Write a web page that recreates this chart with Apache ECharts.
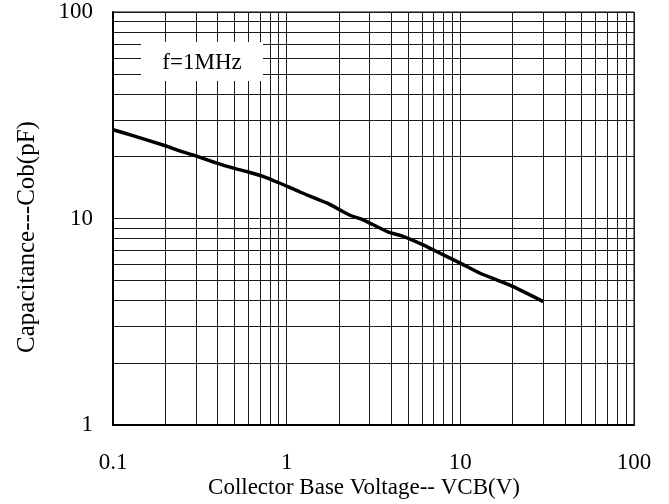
<!DOCTYPE html>
<html>
<head>
<meta charset="utf-8">
<script src="https://cdn.jsdelivr.net/npm/echarts@6/dist/echarts.min.js"></script>
<style>
  html, body { margin: 0; padding: 0; background: #fff; }
  #chart { width: 669px; height: 504px; }
</style>
</head>
<body>
<div id="chart"></div>
<script>
// Cob vs VCB
const voltage = [0.1, 0.13, 0.2, 0.24, 0.3, 0.4, 0.5, 0.6, 0.73, 0.9, 1.2, 1.7, 2.3, 2.75, 3.3, 3.9, 4.6, 6.1, 7.3, 10, 13, 20, 30];
const capacitance = [26.9, 25.2, 22.5, 21.3, 20.1, 18.5, 17.5, 16.8, 16.0, 14.9, 13.4, 11.9, 10.4, 9.86, 9.15, 8.56, 8.24, 7.46, 6.92, 6.08, 5.43, 4.69, 3.96];
const xTitle = "Collector Base Voltage-- VCB(V)";
const yTitle = "Capacitance---Cob(pF)";
const noteText = "f=1MHz";

const font = "Liberation Serif";
const gridColor = "#1a1a1a";

const chart = echarts.init(document.getElementById("chart"));

const logAxis = (min, max, margin) => ({
    type: "log",
    logBase: 10,
    min: min,
    max: max,
    axisLine: { show: true, lineStyle: { color: "#000", width: 2 } },
    axisTick: { show: false },
    minorTick: { show: false, splitNumber: 9 },
    axisLabel: { color: "#000", fontFamily: font, fontSize: 23, margin: margin },
    splitLine: { show: true, lineStyle: { color: gridColor, width: 1 } },
    minorSplitLine: { show: true, lineStyle: { color: gridColor, width: 1 } },
});

chart.setOption({
    animation: false,
    grid: { left: 113, right: 35, top: 12, bottom: 79, show: true, borderColor: "#000", borderWidth: 1 },
    xAxis: logAxis(0.1, 100, 26),
    yAxis: logAxis(1, 100, 20),
    graphic: [
        {
            type: "rect",
            shape: { x: 141, y: 42, width: 122, height: 39 },
            style: { fill: "#fff" },
            z: 10,
        },
        {
            type: "text",
            x: 202, y: 63,
            style: { text: noteText, font: "23px " + font, fill: "#000", align: "center", verticalAlign: "middle" },
            z: 11,
        },
        {
            type: "text",
            x: 364, y: 488,
            style: { text: xTitle, font: "23px " + font, fill: "#000", align: "center", verticalAlign: "middle" },
        },
        {
            type: "text",
            x: 27, y: 237,
            rotation: Math.PI / 2,
            style: { text: yTitle, font: "25px " + font, fill: "#000", align: "center", verticalAlign: "middle" },
        },
    ],
    series: [
        {
            type: "line",
            data: voltage.map((v, i) => [v, capacitance[i]]),
            showSymbol: false,
            smooth: 0.2,
            lineStyle: { color: "#000", width: 3.5 },
            z: 5,
        },
    ],
});
</script>
</body>
</html>
